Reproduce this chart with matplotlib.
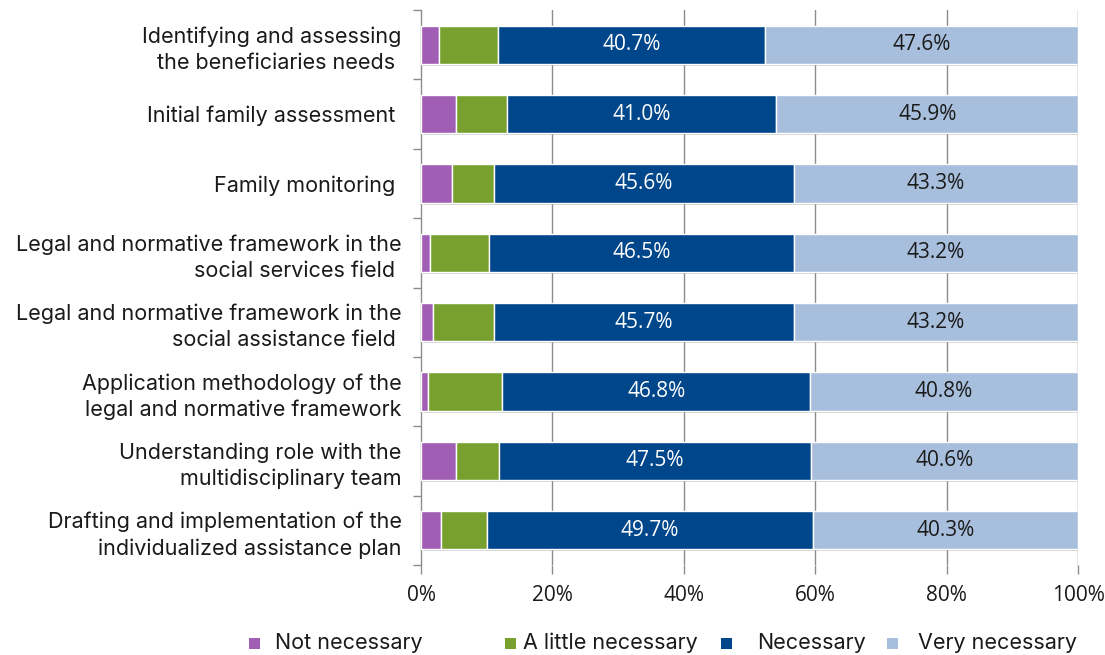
import matplotlib
matplotlib.use("Agg")
import matplotlib.pyplot as plt
import matplotlib.patheffects as pe
from matplotlib.patches import Rectangle
import numpy as np

categories = [
    "Identifying and assessing\nthe beneficiaries needs ",
    "Initial family assessment ",
    "Family monitoring ",
    "Legal and normative framework in the\nsocial services field ",
    "Legal and normative framework in the\nsocial assistance field ",
    "Application methodology of the\nlegal and normative framework",
    "Understanding role with the\nmultidisciplinary team",
    "Drafting and implementation of the\nindividualized assistance plan",
]
series_names = ["Not necessary", "A little necessary", "Necessary", "Very necessary"]
not_necessary = [2.8, 5.4, 4.7, 1.4, 1.9, 1.0, 5.3, 3.0]
little_necessary = [8.9, 7.7, 6.4, 8.9, 9.2, 11.4, 6.6, 7.0]
necessary = [40.7, 41.0, 45.6, 46.5, 45.7, 46.8, 47.5, 49.7]
very_necessary = [47.6, 45.9, 43.3, 43.2, 43.2, 40.8, 40.6, 40.3]
x_ticks = [0, 20, 40, 60, 80, 100]
x_tick_labels = ["0%", "20%", "40%", "60%", "80%", "100%"]

colors = ["#A05EB5", "#77A02E", "#00468B", "#A7BFDD"]
label_font = "Inter"
value_font = "Open Sans"
grid_col = "#8c8c8c"
text_col = "#1a1a1a"

fig = plt.figure(figsize=(11.05, 6.55), dpi=100)
W, H = 1105, 655
ax = fig.add_axes([421 / W, 1 - 565 / H, 657 / W, 555 / H])

y = np.arange(len(categories))
series = [not_necessary, little_necessary, necessary, very_necessary]
left = np.zeros(len(categories))
shadow = [pe.SimplePatchShadow(offset=(1.5, -1.5), shadow_rgbFace="#808080", alpha=0.35), pe.Normal()]
bar_sets = []
for vals, col, name in zip(series, colors, series_names):
    vals = np.asarray(vals)
    bars = ax.barh(y, vals, left=left, height=0.55, color=col, edgecolor="white",
                   linewidth=1.0, label=name, zorder=3)
    for b in bars:
        b.set_path_effects(shadow)
    bar_sets.append((bars, vals, left.copy()))
    left = left + vals

# value labels on the two largest segments
for idx, txt_col in [(2, "white"), (3, text_col)]:
    bars, vals, lft = bar_sets[idx]
    for yi, v, l in zip(y, vals, lft):
        ax.text(l + v / 2, yi, f"{v:.1f}%", ha="center", va="center", color=txt_col,
                fontsize=15, family=value_font, zorder=5)

ax.set_xlim(0, 100)
ax.set_ylim(len(categories) - 0.5, -0.5)

for xv in x_ticks[1:]:
    ax.axvline(xv, color=grid_col, linewidth=1.0, zorder=1)

for s in ["top", "right", "bottom"]:
    ax.spines[s].set_visible(False)
ax.spines["left"].set_color(grid_col)
ax.spines["left"].set_linewidth(1.0)

ax.set_xticks(x_ticks)
ax.set_xticklabels(x_tick_labels, family=value_font, fontsize=15, color=text_col)
ax.tick_params(axis="x", direction="out", length=6.5, width=1.0, color=grid_col, pad=8)

ax.set_yticks(y)
ax.set_yticklabels(categories, family=label_font, fontsize=15.5, color=text_col,
                   linespacing=1.35)
ax.tick_params(axis="y", which="major", length=0, pad=14)
ax.set_yticks(np.arange(len(categories) + 1) - 0.5, minor=True)
ax.tick_params(axis="y", which="minor", direction="out", length=6, width=1.0, color=grid_col)

# legend entries placed along the bottom
legend_pos = [(254.5, 275), (510, 523), (726, 757), (892, 918)]
for (mx, tx), col, name in zip(legend_pos, colors, series_names):
    fig.add_artist(Rectangle(((mx - 5.5) / W, 1 - 649 / H), 11 / W, 11 / H,
                             transform=fig.transFigure, facecolor=col, edgecolor="none"))
    fig.text(tx / W, 1 - 643 / H, name, ha="left", va="center", family=label_font,
             fontsize=15.5, color=text_col)

fig.savefig("out.png", dpi=100, facecolor="white")
